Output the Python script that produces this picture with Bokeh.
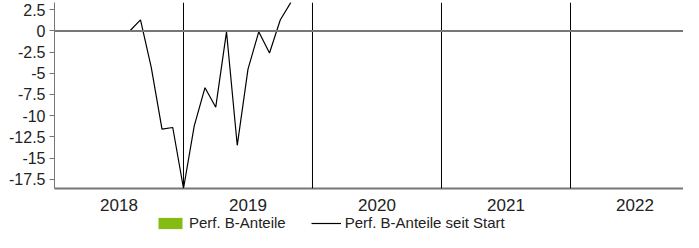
from bokeh.plotting import figure
from bokeh.layouts import column
from bokeh.models import (Range1d, FixedTicker, Span, Legend, LegendItem,
                          ColumnDataSource)
from bokeh.embed import file_html
from bokeh.resources import INLINE

# ---- data ----
years = ["2018", "2019", "2020", "2021", "2022"]
months = ["2018-08", "2018-09", "2018-10", "2018-11", "2018-12",
          "2019-01", "2019-02", "2019-03", "2019-04", "2019-05", "2019-06",
          "2019-07", "2019-08", "2019-09", "2019-10", "2019-11"]
perf_since_start = [0.0, 1.3, -4.3, -11.6, -11.4, -18.6, -11.2, -6.7, -9.0,
                    -0.1, -13.5, -4.5, -0.1, -2.6, 1.3, 3.4]
perf_bars_years = []   # no bar values shown
perf_bars_values = []
y_ticks = [2.5, 0, -2.5, -5, -7.5, -10, -12.5, -15, -17.5]

FONT = "Liberation Sans"
TXT = "#222222"
GRAY = "#777777"
GREEN = "#84bc14"
NAN = float("nan")

first_year = int(years[0])
def pos(ym):
    y, m = ym.split("-")
    return (int(y) - first_year) + (int(m) - 1) / 12.0

xs = [pos(m) for m in months]

p = figure(width=683, height=214, output_backend="svg", toolbar_location=None,
           x_range=Range1d(0, 4.876), y_range=Range1d(-18.6, 3.36),
           min_border_left=54, min_border_top=2, min_border_right=0,
           min_border_bottom=26)
p.outline_line_color = None
p.grid.visible = False
p.background_fill_color = "white"

# year separators
for i in range(1, len(years)):
    p.add_layout(Span(location=i, dimension="height", line_color="black",
                      line_width=1))
# zero line
p.add_layout(Span(location=0, dimension="width", line_color=GRAY, line_width=2))

bar_src = ColumnDataSource(dict(x=perf_bars_years, top=perf_bars_values))
p.vbar(x="x", top="top", width=0.5, source=bar_src,
       fill_color=GREEN, line_color=None)
p.line(xs, perf_since_start, line_color="black", line_width=1.2)

# axes
p.yaxis.ticker = FixedTicker(ticks=y_ticks)
p.yaxis.major_label_overrides = {t: (f"{t:g}") for t in y_ticks}
p.yaxis.axis_line_color = GRAY
p.yaxis.axis_line_width = 1
p.yaxis.major_tick_line_color = GRAY
p.yaxis.major_tick_out = 5
p.yaxis.major_tick_in = 0
p.yaxis.minor_tick_line_color = None
p.yaxis.major_label_text_font = FONT
p.yaxis.major_label_text_font_size = "16px"
p.yaxis.major_label_text_color = TXT
p.yaxis.major_label_standoff = 4

centers = [i + 0.5 for i in range(len(years))]
p.xaxis.ticker = FixedTicker(ticks=centers)
p.xaxis.major_label_overrides = {c: y for c, y in zip(centers, years)}
p.xaxis.axis_line_color = GRAY
p.xaxis.axis_line_width = 2
p.xaxis.major_tick_line_color = None
p.xaxis.minor_tick_line_color = None
p.xaxis.major_label_text_font = FONT
p.xaxis.major_label_text_font_size = "17px"
p.xaxis.major_label_text_color = TXT
p.xaxis.major_label_standoff = 4

# legend strip (frames are aligned with the main plot by the column layout)
lg = figure(width=683, height=18, output_backend="svg", toolbar_location=None,
            x_range=Range1d(0, 1), y_range=Range1d(0, 1),
            min_border_left=54, min_border_right=0,
            min_border_top=0, min_border_bottom=0)
lg.axis.visible = False
lg.grid.visible = False
lg.outline_line_color = None
lb = lg.vbar(x=[NAN], top=[NAN], width=0.5, fill_color=GREEN, line_color=None)
ll = lg.line(x=[NAN, NAN], y=[NAN, NAN], line_color="black", line_width=1.2)
legend = Legend(items=[LegendItem(label="Perf. B-Anteile", renderers=[lb]),
                       LegendItem(label="Perf. B-Anteile seit Start", renderers=[ll])],
                orientation="horizontal", location=(101, 1),
                glyph_width=30, glyph_height=14, label_standoff=4, spacing=25,
                padding=0, margin=0, border_line_color=None,
                background_fill_alpha=0,
                label_text_font=FONT, label_text_font_size="15px",
                label_text_color=TXT, label_height=14)
lg.add_layout(legend, "center")

layout = column(p, lg, spacing=0)
open("out.html", "w").write(file_html(layout, INLINE))
